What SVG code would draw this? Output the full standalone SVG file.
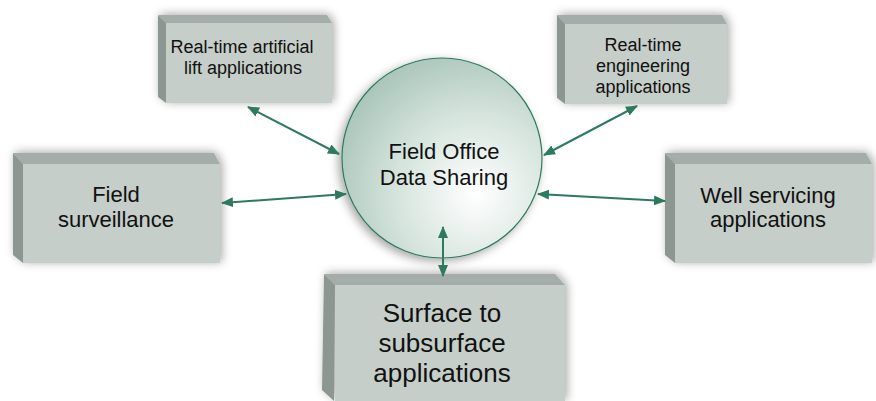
<svg xmlns="http://www.w3.org/2000/svg" width="876" height="401" viewBox="0 0 876 401">
<defs>
<filter id="sh" x="-20%" y="-30%" width="140%" height="160%">
<feDropShadow dx="2" dy="-1" stdDeviation="5" flood-color="#000" flood-opacity="0.35"/>
</filter>
<filter id="csh" x="-20%" y="-20%" width="140%" height="140%">
<feDropShadow dx="-3" dy="3" stdDeviation="5" flood-color="#000" flood-opacity="0.35"/>
</filter>
<radialGradient id="cg" cx="0.67" cy="0.68" r="0.75" fx="0.67" fy="0.68">
<stop offset="0" stop-color="#ffffff"/>
<stop offset="0.55" stop-color="#d4e3dc"/>
<stop offset="1" stop-color="#a9c5b9"/>
</radialGradient>
<marker id="ah" viewBox="0 0 12 10" refX="11" refY="5" markerWidth="12" markerHeight="10" markerUnits="userSpaceOnUse" orient="auto-start-reverse">
<path d="M0,0 L12,5 L0,10 z" fill="#2e7a5e"/>
</marker>
</defs>
<style>
.front{fill:#c5cec8}
.top{fill:#a4adaa}
.left{fill:#8c9792}
.t{font-family:"Liberation Sans",Arial,sans-serif;fill:#111;text-anchor:middle}
.con{stroke:#2e7a5e;stroke-width:2;fill:none;marker-start:url(#ah);marker-end:url(#ah)}
</style>

<g id="hub" filter="url(#csh)">
<circle cx="442" cy="158" r="100" fill="url(#cg)" stroke="#2e7a5e" stroke-width="1.2"/>
</g>
<g id="hub-label">
<text class="t" font-size="22" x="444" y="159">Field Office</text>
<text class="t" font-size="22" x="444" y="185">Data Sharing</text>
</g>

<g id="lift">
<g filter="url(#sh)">
<polygon class="top" points="158,15 327,15 332,23 166,23"/>
<polygon class="left" points="158,15 166,23 166,103 158,97"/>
<rect class="front" x="166" y="23" width="166" height="80"/>
</g>
<text class="t" font-size="18" x="242" y="53">Real-time artificial</text>
<text class="t" font-size="18" x="243" y="74">lift applications</text>
</g>

<g id="engineering">
<g filter="url(#sh)">
<polygon class="top" points="557,15 722,15 727,24 565,24"/>
<polygon class="left" points="557,15 565,24 565,104 557,98"/>
<rect class="front" x="565" y="24" width="162" height="80"/>
</g>
<text class="t" font-size="18" x="643" y="51">Real-time</text>
<text class="t" font-size="18" x="643" y="72">engineering</text>
<text class="t" font-size="18" x="643" y="93">applications</text>
</g>

<g id="surveillance">
<g filter="url(#sh)">
<polygon class="top" points="13,153 214,153 220,164 23,164"/>
<polygon class="left" points="13,153 23,164 23,263 13,255"/>
<rect class="front" x="23" y="164" width="197" height="99"/>
</g>
<text class="t" font-size="22" x="116" y="202">Field</text>
<text class="t" font-size="22" x="116" y="227">surveillance</text>
</g>

<g id="servicing">
<g filter="url(#sh)">
<polygon class="top" points="665,153 866,153 872,164 675,164"/>
<polygon class="left" points="665,153 675,164 675,263 665,255"/>
<rect class="front" x="675" y="164" width="197" height="99"/>
</g>
<text class="t" font-size="22" x="768" y="203">Well servicing</text>
<text class="t" font-size="22" x="768" y="227">applications</text>
</g>

<g id="surface">
<g filter="url(#sh)">
<polygon class="top" points="324,274 555,274 565,285 335,285"/>
<polygon class="left" points="324,274 335,285 334,401 322,390"/>
<rect class="front" x="335" y="285" width="230" height="116"/>
</g>
<text class="t" font-size="26" x="442" y="322">Surface to</text>
<text class="t" font-size="26" x="442" y="352">subsurface</text>
<text class="t" font-size="26" x="442" y="382">applications</text>
</g>

<g id="connectors">
<line class="con" x1="248" y1="107" x2="339" y2="154"/>
<line class="con" x1="637" y1="106" x2="544" y2="155"/>
<line class="con" x1="222" y1="203" x2="346" y2="194"/>
<line class="con" x1="538" y1="194" x2="665" y2="201"/>
<line class="con" x1="443" y1="227" x2="443" y2="276"/>
</g>
</svg>
